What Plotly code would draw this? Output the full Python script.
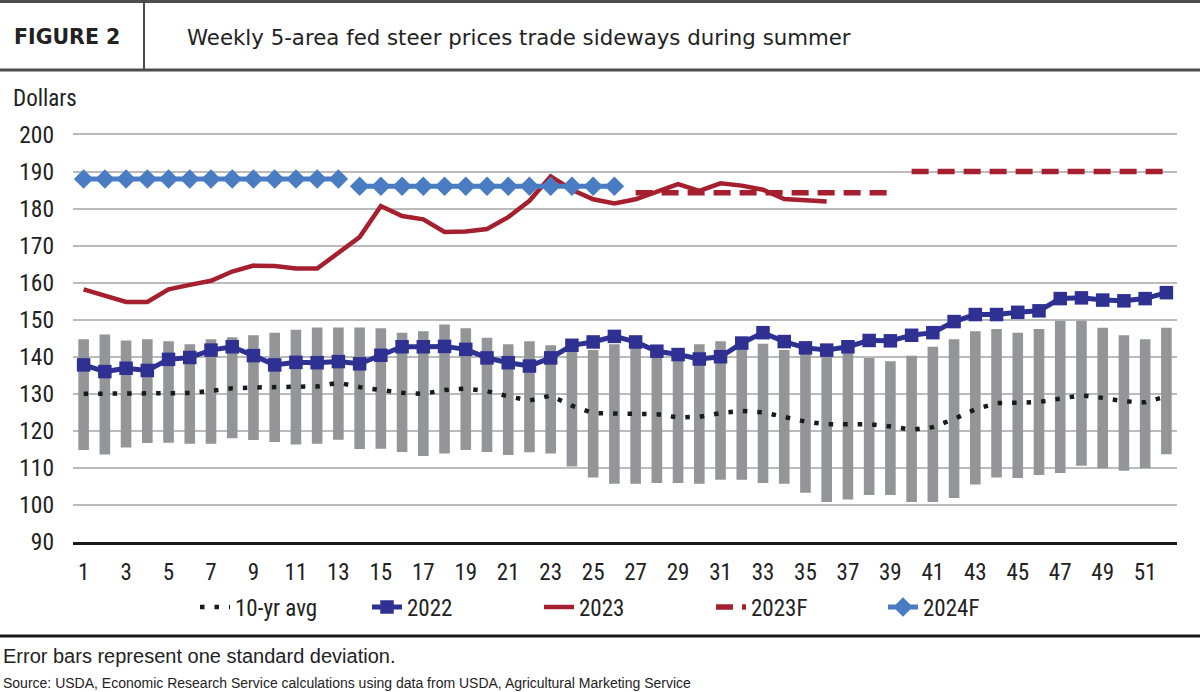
import plotly.graph_objects as go

# ---------------- data ----------------
weeks = list(range(1, 53))
tick_weeks = list(range(1, 53, 2))

avg_10yr = [130, 130, 130, 130.2, 130.2, 130.2, 130.8, 131.5, 131.7, 131.7,
            131.7, 132, 133, 131.8, 131, 130.3, 130, 131, 131.4, 130.7,
            129.3, 128.2, 129.5, 126.8, 124.8, 124.6, 124.6, 124.5, 123.6, 123.8,
            124.8, 125.4, 125, 123.6, 122.5, 121.8, 121.8, 121.8, 121.2, 120.3,
            121, 123.2, 125.8, 127.5, 127.6, 127.8, 128.7, 129.6, 128.9, 128,
            127.7, 129.3]

sd_upper = [144.7, 146, 144.4, 144.7, 144.2, 143.4, 144.7, 145.3, 145.8, 146.5,
            147.3, 147.9, 147.9, 147.9, 147.7, 146.5, 146.9, 148.7, 147.7, 145.1,
            143.4, 144.2, 143.1, 142.6, 141.8, 143.4, 143.3, 143, 141.2, 143.4,
            144.2, 144, 143.5, 141.8, 140.9, 142.5, 142, 139.7, 138.8, 140.3,
            142.7, 144.7, 146.9, 147.5, 146.5, 147.5, 149.7, 149.7, 147.8, 145.8,
            144.7, 147.8]

sd_lower = [114.8, 113.6, 115.5, 116.7, 116.8, 116.5, 116.5, 118, 117.5, 117,
            116.3, 116.5, 117.6, 115.1, 115.2, 114.3, 113.2, 113.9, 114.8, 114.3,
            113.5, 114.2, 113.9, 110.4, 107.4, 105.7, 105.7, 105.9, 105.9, 105.7,
            106.8, 106.8, 105.9, 105.7, 103.3, 100.8, 101.5, 102.7, 102.7, 100.8,
            100.8, 101.9, 105.5, 107.4, 107.3, 108.1, 108.6, 110.6, 109.9, 109.2,
            109.9, 113.7]

price_2022 = [137.8, 136, 136.9, 136.3, 139.3, 139.8, 141.8, 142.7, 140.3, 137.8,
              138.5, 138.4, 138.7, 138.1, 140.4, 142.7, 142.7, 142.8, 142, 139.7,
              138.4, 137.5, 139.7, 143.1, 144, 145.5, 144, 141.5, 140.6, 139.4,
              140, 143.7, 146.5, 144.1, 142.4, 141.8, 142.7, 144.4, 144.3, 145.8,
              146.5, 149.5, 151.4, 151.4, 152, 152.4, 155.7, 155.9, 155.3, 155.1,
              155.7, 157.3]

price_2023 = [158.2, 156.5, 154.8, 154.8, 158.2, 159.4, 160.5, 163, 164.6, 164.5,
              163.8, 163.8, 168, 172.3, 180.7, 178, 177.1, 173.7, 173.8, 174.5,
              177.7, 182.1, 188.7, 185.1, 182.5, 181.4, 182.5, 184.5, 186.6, 184.8,
              186.8, 186.2, 185.1, 182.6, 182.1, 181.9]

# quarterly forecasts (weeks of each quarter)
quarter_first_week = [1, 14, 27, 40]
quarter_last_week = [13, 26, 39, 52]
forecast_2023 = [None, None, 184.3, 190.0]
forecast_2024 = [188.0, 186.0, None, None]

y_ticks = list(range(90, 201, 10))

# ---------------- layout helpers ----------------
W, H = 1200, 692
L, R, T, B = 73, 23, 133, 150
PW, PH = W - L - R, H - T - B


def fx(px):
    return (px - L) / PW


def fy(py):
    return (H - B - py) / PH


NAVY = "#2E3192"
RED = "#A61F2E"
BLUE = "#4A7CC3"
GRAY = "#939598"
CHART_FONT = "Liberation Sans Narrow, Arial Narrow, Roboto Condensed, Liberation Sans, Arial"

fig = go.Figure()

# standard deviation bars
fig.add_trace(go.Bar(
    x=weeks,
    base=sd_lower,
    y=[u - l for u, l in zip(sd_upper, sd_lower)],
    width=0.5,
    marker=dict(color=GRAY, line=dict(width=0)),
    showlegend=False,
    hoverinfo="skip",
))

fig.add_trace(go.Scatter(
    x=weeks, y=avg_10yr, mode="lines", name="10-yr avg",
    line=dict(color="#1a1a1a", width=4.5, dash="4.5px,10px"),
))

fig.add_trace(go.Scatter(
    x=weeks, y=price_2022, mode="lines+markers", name="2022",
    line=dict(color=NAVY, width=5),
    marker=dict(symbol="square", size=13.5, color=NAVY),
))

fig.add_trace(go.Scatter(
    x=weeks[:len(price_2023)], y=price_2023, mode="lines", name="2023",
    line=dict(color=RED, width=4.5),
))

first = True
for q0, q1, v in zip(quarter_first_week, quarter_last_week, forecast_2023):
    if v is None:
        continue
    xs = list(range(q0, q1 + 1))
    fig.add_trace(go.Scatter(
        x=xs, y=[v] * len(xs), mode="lines", name="2023F",
        legendgroup="2023F", showlegend=first,
        line=dict(color=RED, width=5.5, dash="17px,9px"),
    ))
    first = False

first = True
for q0, q1, v in zip(quarter_first_week, quarter_last_week, forecast_2024):
    if v is None:
        continue
    xs = list(range(q0, q1 + 1))
    fig.add_trace(go.Scatter(
        x=xs, y=[v] * len(xs), mode="lines+markers", name="2024F",
        legendgroup="2024F", showlegend=first,
        line=dict(color=BLUE, width=5),
        marker=dict(symbol="diamond", size=15, color=BLUE),
    ))
    first = False

shapes = [
    # header lines
    dict(type="line", xref="paper", yref="paper", x0=fx(0), x1=fx(W), y0=fy(1.5), y1=fy(1.5),
         line=dict(color="#4d4d4d", width=3)),
    dict(type="line", xref="paper", yref="paper", x0=fx(0), x1=fx(W), y0=fy(70), y1=fy(70),
         line=dict(color="#4d4d4d", width=3)),
    dict(type="line", xref="paper", yref="paper", x0=fx(144), x1=fx(144), y0=fy(2), y1=fy(70),
         line=dict(color="#4d4d4d", width=2)),
    # footer line
    dict(type="line", xref="paper", yref="paper", x0=fx(0), x1=fx(W), y0=fy(636), y1=fy(636),
         line=dict(color="#1a1a1a", width=3)),
]

annotations = [
    dict(text="<b>FIGURE 2</b>", x=fx(12), y=fy(37), xref="paper", yref="paper",
         xanchor="left", yanchor="middle", showarrow=False,
         font=dict(family="DejaVu Sans", size=20.5, color="#222")),
    dict(text="Weekly 5-area fed steer prices trade sideways during summer",
         x=fx(185), y=fy(37), xref="paper", yref="paper",
         xanchor="left", yanchor="middle", showarrow=False,
         font=dict(family="DejaVu Sans", size=21.3, color="#222")),
    dict(text="Dollars", x=fx(11), y=fy(98), xref="paper", yref="paper",
         xanchor="left", yanchor="middle", showarrow=False,
         font=dict(family=CHART_FONT, size=23, color="#222")),
    dict(text="Error bars represent one standard deviation.", x=fx(1), y=fy(656),
         xref="paper", yref="paper", xanchor="left", yanchor="middle", showarrow=False,
         font=dict(family="Liberation Sans, Arial", size=20, color="#222")),
    dict(text="Source: USDA, Economic Research Service calculations using data from USDA, Agricultural Marketing Service",
         x=fx(1), y=fy(683), xref="paper", yref="paper", xanchor="left", yanchor="middle",
         showarrow=False, font=dict(family="Liberation Sans, Arial", size=14, color="#222")),
]

fig.update_layout(
    width=W, height=H,
    margin=dict(l=L, r=R, t=T, b=B),
    paper_bgcolor="white", plot_bgcolor="white",
    barmode="overlay",
    font=dict(family=CHART_FONT, size=20, color="#222"),
    shapes=shapes,
    annotations=annotations,
    showlegend=True,
    legend=dict(orientation="h", x=0.5, xanchor="center", y=fy(607), yanchor="middle",
                font=dict(family=CHART_FONT, size=23, color="#222"),
                entrywidth=127, entrywidthmode="pixels",
                tracegroupgap=0, bgcolor="rgba(0,0,0,0)"),
    hovermode=False,
)

fig.update_xaxes(
    range=[0.5, 52.5], tickmode="array", tickvals=tick_weeks,
    ticktext=[str(w) for w in tick_weeks],
    showgrid=False, zeroline=False, showline=True, linecolor="#1a1a1a", linewidth=2.5,
    ticks="", tickfont=dict(size=23), ticklabelstandoff=8,
)
fig.update_yaxes(
    range=[90, 200.4], tickmode="array", tickvals=y_ticks,
    showgrid=True, gridcolor="#BBBBBB", gridwidth=2, zeroline=False, showline=False,
    ticks="", tickfont=dict(size=23.5), ticklabelstandoff=18,
)

fig.write_html("out.html")
